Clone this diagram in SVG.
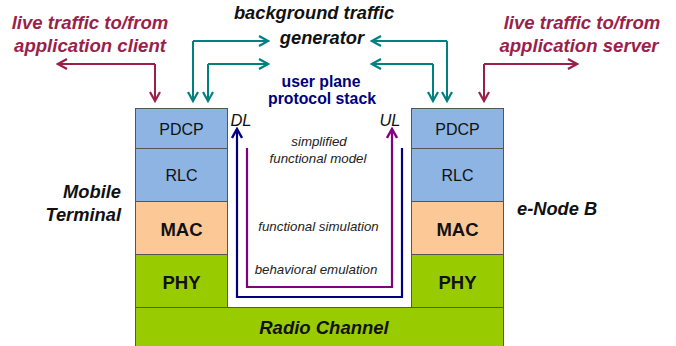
<svg xmlns="http://www.w3.org/2000/svg" width="676" height="346" viewBox="0 0 676 346">
<defs>
<marker id="mm" viewBox="0 0 12 12" refX="10" refY="6" markerWidth="12" markerHeight="12" orient="auto" markerUnits="userSpaceOnUse"><path d="M1,1 L10,6 L1,11" fill="none" stroke="#9b1f4b" stroke-width="2.2"/></marker>
<marker id="mt" viewBox="0 0 12 12" refX="10" refY="6" markerWidth="12" markerHeight="12" orient="auto" markerUnits="userSpaceOnUse"><path d="M1,1 L10,6 L1,11" fill="none" stroke="#00807f" stroke-width="2.2"/></marker>
<marker id="mn" viewBox="0 0 12 12" refX="10" refY="6" markerWidth="12" markerHeight="12" orient="auto" markerUnits="userSpaceOnUse"><path d="M1,1 L10,6 L1,11" fill="none" stroke="#000080" stroke-width="2.4"/></marker>
<marker id="mp" viewBox="0 0 12 12" refX="10" refY="6" markerWidth="12" markerHeight="12" orient="auto" markerUnits="userSpaceOnUse"><path d="M1,1 L10,6 L1,11" fill="none" stroke="#800080" stroke-width="2.4"/></marker>
</defs>
<style>
text{font-family:"Liberation Sans",Arial,sans-serif}
.box{stroke:#555;stroke-width:1}
.blue{fill:#8db4e2}
.mac{fill:#fcc996}
.phy{fill:#99cc00}
.lbl{font-size:16px;fill:#111;text-anchor:middle}
.bl{font-size:18.5px;font-weight:bold;fill:#111;text-anchor:middle}
.it{font-size:13.3px;font-style:italic;fill:#222;text-anchor:middle}
.title{font-size:18.3px;font-weight:bold;font-style:italic;fill:#111}
.live{font-size:18.6px;font-weight:bold;font-style:italic;fill:#9b1f4b;text-anchor:middle}
.up{font-size:15.8px;font-weight:bold;fill:#000080;text-anchor:middle}
.mar{fill:none;stroke:#9b1f4b;stroke-width:2}
.teal{fill:none;stroke:#00807f;stroke-width:2}
.navy{fill:none;stroke:#000080;stroke-width:2.2}
.purp{fill:none;stroke:#800080;stroke-width:2.2}
</style>
<rect width="676" height="346" fill="#fff"/>

<g id="radio-channel">
<rect class="box phy" x="135.5" y="307.5" width="368" height="40"/>
<text x="324" y="334" class="bl" font-style="italic">Radio Channel</text>
</g>

<g id="mobile-terminal">
<rect class="box blue" x="135.5" y="108.5" width="92" height="40"/>
<text x="181.5" y="135" class="lbl">PDCP</text>
<rect class="box blue" x="135.5" y="148.5" width="92" height="53"/>
<text x="181.5" y="181" class="lbl">RLC</text>
<rect class="box mac" x="135.5" y="201.5" width="92" height="53"/>
<text x="181.5" y="236" class="bl">MAC</text>
<rect class="box phy" x="135.5" y="254.5" width="92" height="53"/>
<text x="181.5" y="289" class="bl">PHY</text>
<text x="121" y="198" class="title" text-anchor="end">Mobile</text>
<text x="121" y="221" class="title" text-anchor="end">Terminal</text>
</g>

<g id="enode-b">
<rect class="box blue" x="411.5" y="108.5" width="92" height="40"/>
<text x="457.5" y="135" class="lbl">PDCP</text>
<rect class="box blue" x="411.5" y="148.5" width="92" height="53"/>
<text x="457.5" y="181" class="lbl">RLC</text>
<rect class="box mac" x="411.5" y="201.5" width="92" height="53"/>
<text x="457.5" y="236" class="bl">MAC</text>
<rect class="box phy" x="411.5" y="254.5" width="92" height="53"/>
<text x="457.5" y="289" class="bl">PHY</text>
<text x="517" y="215" class="title">e-Node B</text>
</g>

<g id="background-traffic-generator">
<text x="314" y="19" class="title" text-anchor="middle">background traffic</text>
<text x="322" y="44" class="title" text-anchor="middle">generator</text>
</g>

<g id="user-plane-label">
<text x="321" y="87" class="up">user plane</text>
<text x="322" y="104" class="up">protocol stack</text>
</g>

<g id="live-client">
<text x="90" y="29" class="live">live traffic to/from</text>
<text x="90" y="52" class="live">application client</text>
</g>

<g id="live-server">
<text x="582" y="29" class="live">live traffic to/from</text>
<text x="579" y="52" class="live">application server</text>
</g>

<g id="model-labels">
<text x="241" y="126" font-size="16.5" font-style="italic" fill="#111" text-anchor="middle">DL</text>
<text x="390" y="126" font-size="16.5" font-style="italic" fill="#111" text-anchor="middle">UL</text>
<text x="319" y="146" class="it">simplified</text>
<text x="318" y="163" class="it">functional model</text>
<text x="318.5" y="231" class="it">functional simulation</text>
<text x="316" y="274" class="it">behavioral emulation</text>
</g>

<g id="connectors">
<path class="mar" d="M155,64 H58" marker-end="url(#mm)"/>
<path class="mar" d="M155,64 V101" marker-end="url(#mm)"/>
<path class="mar" d="M484,64 H577" marker-end="url(#mm)"/>
<path class="mar" d="M484,64 V101" marker-end="url(#mm)"/>
<path class="teal" d="M193,41 H268" marker-end="url(#mt)"/>
<path class="teal" d="M193,41 V101" marker-end="url(#mt)"/>
<path class="teal" d="M208,64 H268" marker-end="url(#mt)"/>
<path class="teal" d="M208,64 V101" marker-end="url(#mt)"/>
<path class="teal" d="M447,41 H372" marker-end="url(#mt)"/>
<path class="teal" d="M447,41 V101" marker-end="url(#mt)"/>
<path class="teal" d="M433,64 H372" marker-end="url(#mt)"/>
<path class="teal" d="M433,64 V101" marker-end="url(#mt)"/>
<path class="navy" d="M402,148 V297 H237 V129" marker-end="url(#mn)"/>
<path class="purp" d="M247,148 V287 H392 V129" marker-end="url(#mp)"/>
</g>
</svg>
